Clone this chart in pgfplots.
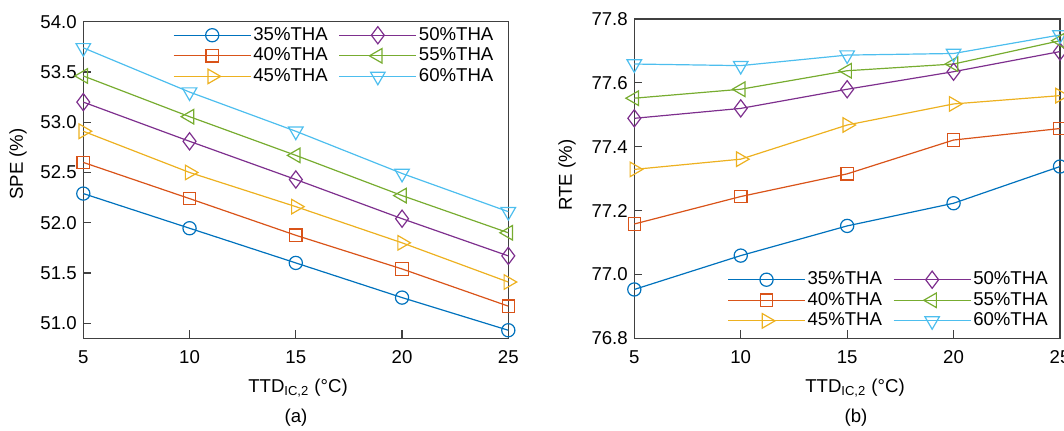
\documentclass[border=0pt]{standalone}
\usepackage{fontspec}
\setmainfont{Liberation Sans}
\usepackage{pgfplots}
\pgfplotsset{compat=1.18}
\definecolor{c1}{rgb}{0,0.447,0.741}
\definecolor{c2}{rgb}{0.85,0.325,0.098}
\definecolor{c3}{rgb}{0.929,0.694,0.125}
\definecolor{c4}{rgb}{0.494,0.184,0.556}
\definecolor{c5}{rgb}{0.466,0.674,0.188}
\definecolor{c6}{rgb}{0.301,0.745,0.933}
\pgfplotsset{
  myax/.style={
    scale only axis, anchor=south west, clip=false,
    axis line style={draw=black!75, line width=0.6pt},
    tick align=inside, xtick pos=lower, ytick pos=left,
    major tick length=4pt, tick style={black!75, line width=0.6pt},
    xmin=5, xmax=25, xtick={5,10,15,20,25},
    /pgf/number format/assume math mode=true,
    tick label style={font=\fontsize{9.3}{11}\selectfont},
    xticklabel style={yshift=-3pt},
    yticklabel style={/pgf/number format/.cd, fixed, fixed zerofill, precision=1},
    legend columns=2, legend cell align=left,
    legend style={draw=none, fill=none, inner sep=0pt, anchor=north west,
      font=\fontsize{9.3}{11}\selectfont,
      nodes={inner xsep=1pt, inner ysep=1.2pt},
      /tikz/every even column/.append style={column sep=4.5pt}},
    legend image code/.code={\draw[mark repeat=2,mark phase=2,#1] plot coordinates {(0pt,0pt) (19.25pt,0pt) (38.5pt,0pt)};},
    every axis plot/.append style={line width=0.6pt},
  },
  s35/.style={color=c1, mark=o, mark size=3.3pt},
  s40/.style={color=c2, mark=square, mark size=3.1pt},
  s45/.style={color=c3, mark=triangle, mark size=4.2pt, mark options={rotate=-90}},
  s50/.style={color=c4, mark=diamond, mark size=4.3pt},
  s55/.style={color=c5, mark=triangle, mark size=4.2pt, mark options={rotate=90}},
  s60/.style={color=c6, mark=triangle, mark size=4.2pt, mark options={rotate=180}},
}
\begin{document}
\fontsize{9.3}{11}\selectfont
\begin{tikzpicture}[every node/.style={font=\fontsize{9.3}{11}\selectfont}]
\path[use as bounding box] (0,0) rectangle (532pt,215pt);
\begin{axis}[myax, at={(41.65pt,45.85pt)}, width=212.5pt, height=158.3pt,
  ymin=50.85, ymax=54.0, ytick={51,51.5,52,52.5,53,53.5,54},
  legend style={at={(0.2104,0.991)}}]
\addplot[s35] coordinates {(5,52.29) (10,51.945) (15,51.60) (20,51.255) (25,50.93)};
\addlegendentry{35\%THA}
\addplot[s50] coordinates {(5,53.20) (10,52.81) (15,52.43) (20,52.04) (25,51.67)};
\addlegendentry{50\%THA}
\addplot[s40] coordinates {(5,52.60) (10,52.24) (15,51.875) (20,51.54) (25,51.17)};
\addlegendentry{40\%THA}
\addplot[s55] coordinates {(5,53.46) (10,53.055) (15,52.67) (20,52.27) (25,51.90)};
\addlegendentry{55\%THA}
\addplot[s45] coordinates {(5,52.91) (10,52.50) (15,52.16) (20,51.80) (25,51.41)};
\addlegendentry{45\%THA}
\addplot[s60] coordinates {(5,53.74) (10,53.30) (15,52.91) (20,52.49) (25,52.11)};
\addlegendentry{60\%THA}
\end{axis}
\begin{axis}[myax, at={(317.15pt,45.85pt)}, width=212.85pt, height=159.65pt,
  ymin=76.8, ymax=77.8, ytick={76.8,77.0,77.2,77.4,77.6,77.8},
  legend style={at={(0.2178,0.217)}}]
\addplot[s35] coordinates {(5,76.953) (10,77.059) (15,77.152) (20,77.223) (25,77.338)};
\addlegendentry{35\%THA}
\addplot[s50] coordinates {(5,77.489) (10,77.52) (15,77.58) (20,77.635) (25,77.698)};
\addlegendentry{50\%THA}
\addplot[s40] coordinates {(5,77.158) (10,77.244) (15,77.315) (20,77.421) (25,77.457)};
\addlegendentry{40\%THA}
\addplot[s55] coordinates {(5,77.552) (10,77.58) (15,77.638) (20,77.659) (25,77.732)};
\addlegendentry{55\%THA}
\addplot[s45] coordinates {(5,77.329) (10,77.361) (15,77.468) (20,77.534) (25,77.56)};
\addlegendentry{45\%THA}
\addplot[s60] coordinates {(5,77.659) (10,77.654) (15,77.687) (20,77.692) (25,77.75)};
\addlegendentry{60\%THA}
\end{axis}
\node[rotate=90] at (9pt,133pt) {SPE (\%)};
\node[rotate=90] at (283.5pt,127.5pt) {RTE (\%)};
\node at (149pt,21pt) {TTD\textsubscript{IC,2} (°C)};
\node at (148pt,6pt) {(a)};
\node at (427.5pt,21pt) {TTD\textsubscript{IC,2} (°C)};
\node at (428pt,6pt) {(b)};
\end{tikzpicture}
\end{document}
